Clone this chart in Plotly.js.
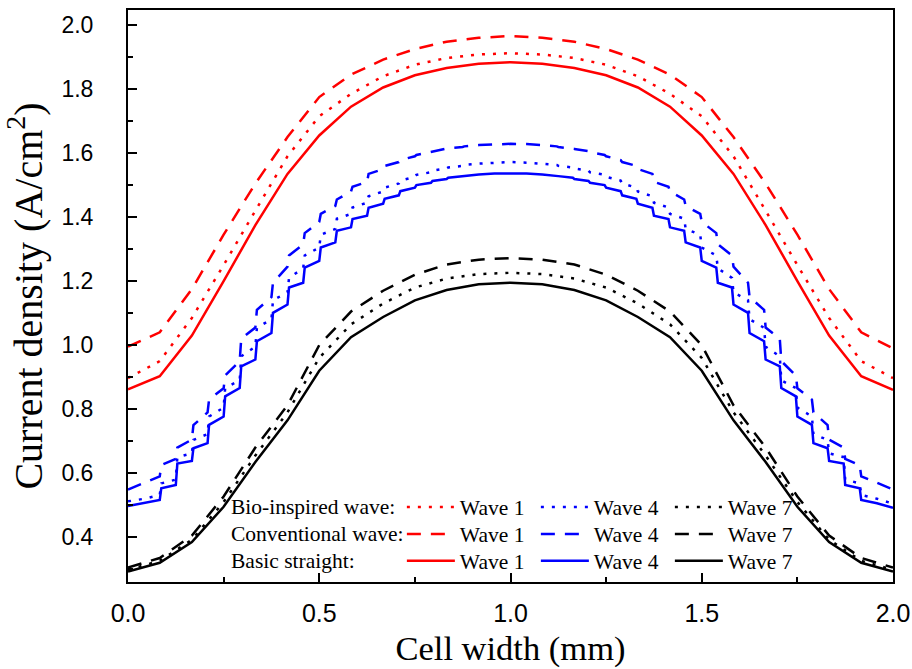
<!DOCTYPE html>
<html><head><meta charset="utf-8">
<script src="https://cdn.plot.ly/plotly-3.0.1.min.js"></script>
<style>html,body{margin:0;padding:0;background:#fff}</style>
</head><body><div id="chart" style="width:912px;height:669px"></div>
<script>
// Cell width positions (mm)
const xSmooth = [0, 0.083, 0.167, 0.25, 0.333, 0.417, 0.5, 0.583, 0.667, 0.75, 0.833, 0.917, 1.0,
  1.083, 1.167, 1.25, 1.333, 1.417, 1.5, 1.583, 1.667, 1.75, 1.833, 1.917, 2.0];
const xStep = [0, 0.042, 0.083, 0.087, 0.125, 0.129, 0.167, 0.171, 0.208, 0.212, 0.25, 0.254,
  0.292, 0.296, 0.333, 0.337, 0.375, 0.379, 0.417, 0.421, 0.458, 0.462, 0.5, 0.504, 0.542, 0.546,
  0.583, 0.587, 0.625, 0.629, 0.667, 0.671, 0.708, 0.712, 0.75, 0.754, 0.792, 0.796, 0.833, 0.837,
  0.875, 0.879, 0.917, 0.958, 1.0,
  1.042, 1.083, 1.121, 1.125, 1.163, 1.167, 1.204, 1.208, 1.246, 1.25, 1.288, 1.292, 1.329, 1.333,
  1.371, 1.375, 1.413, 1.417, 1.454, 1.458, 1.496, 1.5, 1.538, 1.542, 1.579, 1.583, 1.621, 1.625,
  1.663, 1.667, 1.704, 1.708, 1.746, 1.75, 1.788, 1.792, 1.829, 1.833, 1.871, 1.875, 1.913, 1.917,
  1.958, 2.0];

// Wave 1 (red)
const bioW1   = [0.897, 0.950, 1.085, 1.250, 1.420, 1.590, 1.715, 1.785, 1.840, 1.876, 1.897, 1.908, 1.912,
  1.908, 1.897, 1.876, 1.840, 1.785, 1.715, 1.590, 1.420, 1.250, 1.085, 0.950, 0.897];
const convW1  = [0.995, 1.040, 1.175, 1.345, 1.505, 1.650, 1.775, 1.845, 1.892, 1.925, 1.948, 1.960, 1.966,
  1.960, 1.948, 1.925, 1.892, 1.845, 1.775, 1.650, 1.505, 1.345, 1.175, 1.040, 0.990];
const basicW1 = [0.862, 0.903, 1.030, 1.200, 1.375, 1.535, 1.655, 1.745, 1.805, 1.843, 1.866, 1.879, 1.884,
  1.879, 1.866, 1.843, 1.805, 1.745, 1.655, 1.535, 1.375, 1.200, 1.030, 0.903, 0.860];

// Wave 4 (blue, stepped)
const bioW4 = [0.512, 0.520, 0.532, 0.568, 0.580, 0.650, 0.662, 0.704, 0.722, 0.777, 0.805, 0.866,
  0.890, 0.965, 0.995, 1.054, 1.081, 1.140, 1.165, 1.210, 1.240, 1.280, 1.305, 1.345, 1.363, 1.395,
  1.410, 1.430, 1.445, 1.465, 1.480, 1.492, 1.505, 1.514, 1.526, 1.532, 1.540, 1.545, 1.552, 1.555,
  1.560, 1.563, 1.567, 1.570, 1.572,
  1.570, 1.567, 1.563, 1.560, 1.555, 1.552, 1.545, 1.540, 1.532, 1.526, 1.514, 1.505, 1.492, 1.480,
  1.465, 1.445, 1.430, 1.410, 1.395, 1.363, 1.345, 1.305, 1.280, 1.240, 1.210, 1.165, 1.140, 1.081,
  1.054, 0.995, 0.965, 0.890, 0.866, 0.805, 0.777, 0.722, 0.704, 0.662, 0.650, 0.580, 0.568, 0.532,
  0.520, 0.505];
const convW4 = [0.549, 0.570, 0.590, 0.625, 0.645, 0.680, 0.705, 0.750, 0.790, 0.830, 0.865, 0.905,
  0.950, 1.020, 1.055, 1.110, 1.150, 1.195, 1.245, 1.280, 1.315, 1.350, 1.385, 1.410, 1.435, 1.455,
  1.480, 1.495, 1.510, 1.535, 1.550, 1.560, 1.572, 1.578, 1.590, 1.594, 1.603, 1.606, 1.613, 1.615,
  1.619, 1.621, 1.625, 1.628, 1.629,
  1.628, 1.625, 1.621, 1.619, 1.615, 1.613, 1.606, 1.603, 1.594, 1.590, 1.578, 1.572, 1.560, 1.550,
  1.535, 1.510, 1.495, 1.480, 1.455, 1.435, 1.410, 1.385, 1.350, 1.315, 1.280, 1.245, 1.195, 1.150,
  1.110, 1.055, 1.020, 0.950, 0.905, 0.865, 0.830, 0.790, 0.750, 0.705, 0.680, 0.645, 0.625, 0.590,
  0.570, 0.549];
const basicW4 = [0.497, 0.506, 0.516, 0.553, 0.563, 0.630, 0.638, 0.678, 0.694, 0.751, 0.777, 0.840,
  0.866, 0.934, 0.955, 1.012, 1.038, 1.101, 1.127, 1.180, 1.195, 1.242, 1.263, 1.305, 1.321, 1.357,
  1.368, 1.394, 1.404, 1.429, 1.442, 1.457, 1.468, 1.481, 1.492, 1.500, 1.507, 1.513, 1.519, 1.523,
  1.528, 1.530, 1.533, 1.536, 1.537,
  1.536, 1.533, 1.530, 1.528, 1.523, 1.519, 1.513, 1.507, 1.500, 1.492, 1.481, 1.468, 1.457, 1.442,
  1.429, 1.404, 1.394, 1.368, 1.357, 1.321, 1.305, 1.263, 1.242, 1.195, 1.180, 1.127, 1.101, 1.038,
  1.012, 0.955, 0.934, 0.866, 0.840, 0.777, 0.751, 0.694, 0.678, 0.638, 0.630, 0.563, 0.553, 0.516,
  0.506, 0.492];

// Wave 7 (black)
const bioW7   = [0.298, 0.326, 0.392, 0.510, 0.655, 0.790, 0.960, 1.065, 1.130, 1.180, 1.208, 1.222, 1.226,
  1.222, 1.208, 1.180, 1.130, 1.065, 0.960, 0.790, 0.655, 0.510, 0.392, 0.326, 0.298];
const convW7  = [0.305, 0.335, 0.405, 0.527, 0.680, 0.812, 1.000, 1.105, 1.170, 1.220, 1.252, 1.267, 1.272,
  1.267, 1.252, 1.220, 1.170, 1.105, 1.000, 0.812, 0.680, 0.527, 0.405, 0.335, 0.305];
const basicW7 = [0.293, 0.320, 0.385, 0.495, 0.635, 0.765, 0.920, 1.025, 1.088, 1.140, 1.172, 1.190, 1.195,
  1.190, 1.172, 1.140, 1.088, 1.025, 0.920, 0.765, 0.635, 0.495, 0.385, 0.320, 0.293];

const rowLabels = ['Bio-inspired wave:', 'Conventional wave:', 'Basic straight:'];
const waveNames = ['Wave 1', 'Wave 4', 'Wave 7'];

const RED = '#ff0000', BLUE = '#0000ff', BLACK = '#000000';
const DOT = '3px,8px', DASH = '14px,10px';

function tr(x, y, color, dash, name, legend) {
  return {x: x, y: y, type: 'scatter', mode: 'lines', name: name, legend: legend,
    line: {color: color, width: 2.5, dash: dash}, hoverinfo: 'skip'};
}

const traces = [
  tr(xSmooth, bioW1, RED, DOT, waveNames[0], 'legend'),
  tr(xStep, bioW4, BLUE, DOT, waveNames[1], 'legend'),
  tr(xSmooth, bioW7, BLACK, DOT, waveNames[2], 'legend'),
  tr(xSmooth, convW1, RED, DASH, waveNames[0], 'legend2'),
  tr(xStep, convW4, BLUE, DASH, waveNames[1], 'legend2'),
  tr(xSmooth, convW7, BLACK, DASH, waveNames[2], 'legend2'),
  tr(xSmooth, basicW1, RED, 'solid', waveNames[0], 'legend3'),
  tr(xStep, basicW4, BLUE, 'solid', waveNames[1], 'legend3'),
  tr(xSmooth, basicW7, BLACK, 'solid', waveNames[2], 'legend3')
];

const serif = 'Liberation Serif, Times New Roman, serif';
const legFont = {family: serif, size: 21.5, color: '#000'};
function leg(y) {
  return {orientation: 'h', x: 0.358, xanchor: 'left', y: y, yanchor: 'middle',
    bgcolor: 'rgba(0,0,0,0)', borderwidth: 0, font: legFont, entrywidth: 71,
    itemwidth: 48, traceorder: 'normal'};
}
const rowY = [0.131, 0.084, 0.037];

const axisCommon = {
  ticks: 'inside', ticklen: 9, tickwidth: 2, tickcolor: '#000',
  showline: true, linewidth: 2, linecolor: '#000', mirror: true,
  showgrid: false, zeroline: false, tickformat: '.1f'
};

const layout = {
  width: 912, height: 669,
  margin: {l: 128, r: 19, t: 10, b: 87},
  paper_bgcolor: '#fff', plot_bgcolor: '#fff',
  showlegend: true,
  xaxis: Object.assign({}, axisCommon, {
    range: [0, 2.0], tick0: 0, dtick: 0.5,
    tickfont: {family: 'Liberation Sans Narrow, Liberation Sans, Arial', size: 25, color: '#000'},
    ticklabelstandoff: 8,
    minor: {dtick: 0.25, ticks: 'inside', ticklen: 5, tickwidth: 2, tickcolor: '#000', showgrid: false},
    title: {text: 'Cell width (mm)', font: {family: serif, size: 34.5, color: '#000'}, standoff: 10}
  }),
  yaxis: Object.assign({}, axisCommon, {
    range: [0.26, 2.047], tick0: 0, dtick: 0.2,
    tickfont: {family: 'Liberation Sans, Arial', size: 23, color: '#000'},
    ticklabelstandoff: 28,
    minor: {dtick: 0.1, ticks: 'inside', ticklen: 5, tickwidth: 2, tickcolor: '#000', showgrid: false},
    title: {text: 'Current density (A/cm<sup>2</sup>)', font: {family: serif, size: 40, color: '#000'}, standoff: 8}
  }),
  legend: leg(rowY[0]),
  legend2: leg(rowY[1]),
  legend3: leg(rowY[2]),
  annotations: rowLabels.map(function(t, i) {
    return {text: t, xref: 'paper', yref: 'paper', x: 0.132, y: rowY[i],
      xanchor: 'left', yanchor: 'middle', showarrow: false, font: legFont};
  })
};

Plotly.newPlot('chart', traces, layout, {displayModeBar: false, staticPlot: true});
</script>
</body></html>
